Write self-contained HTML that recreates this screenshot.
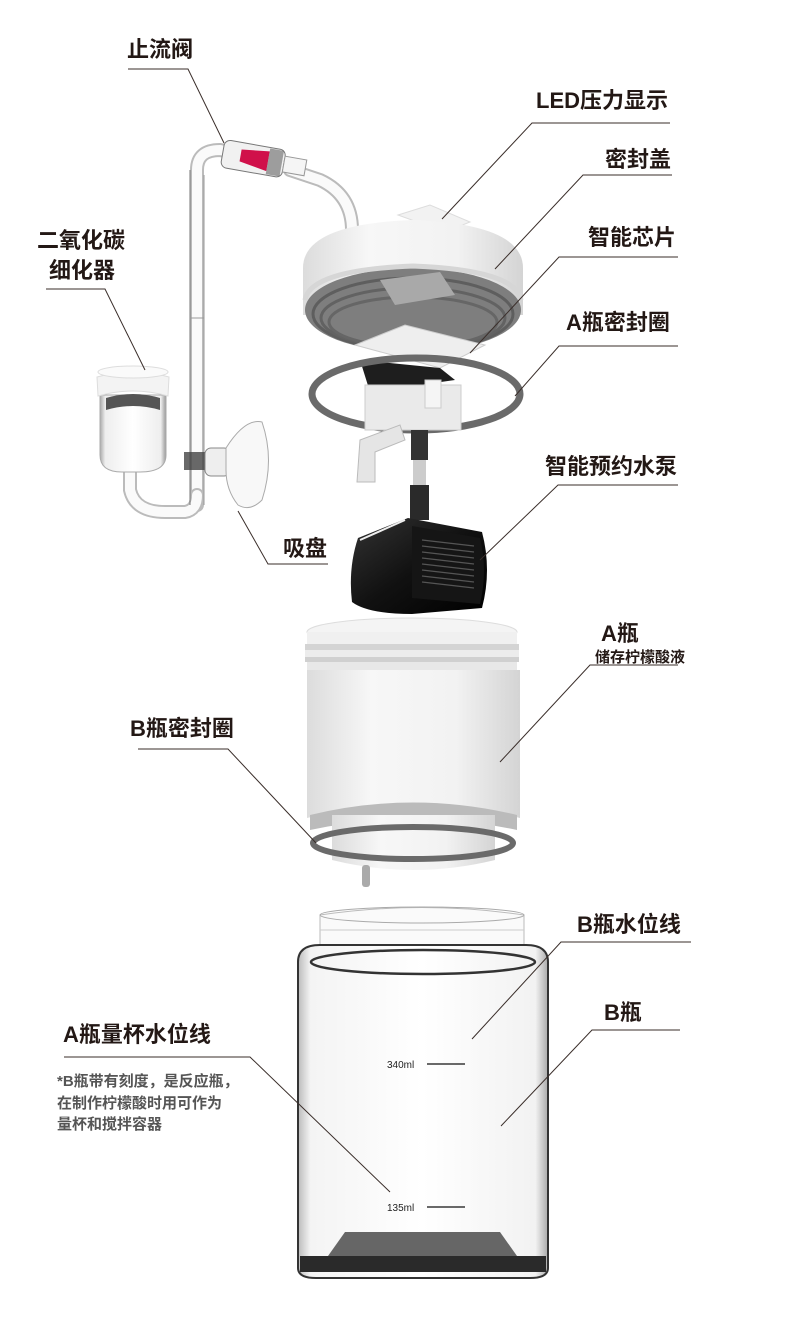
<!DOCTYPE html>
<html><head><meta charset="utf-8"><style>
html,body{margin:0;padding:0;background:#fff;}
svg{display:block;}
.l{font-family:"Liberation Sans","Noto Sans CJK SC",sans-serif;font-weight:bold;font-size:22px;fill:#231815;}
.s{font-family:"Liberation Sans","Noto Sans CJK SC",sans-serif;font-weight:bold;font-size:15px;fill:#555;}
.m{font-family:"Liberation Sans","Noto Sans CJK SC",sans-serif;font-size:10px;fill:#222;}
.ld{stroke:#3a2e2a;stroke-width:1;fill:none;}
</style></head><body>
<svg width="790" height="1337" viewBox="0 0 790 1337" xmlns="http://www.w3.org/2000/svg">
<defs>
<linearGradient id="wh" x1="0" x2="1" y1="0" y2="0">
<stop offset="0" stop-color="#dcdcdc"/><stop offset="0.3" stop-color="#f7f7f7"/><stop offset="0.7" stop-color="#f2f2f2"/><stop offset="1" stop-color="#d4d4d4"/></linearGradient>
<linearGradient id="blk" x1="0" x2="1" y1="0" y2="1">
<stop offset="0" stop-color="#333"/><stop offset="0.5" stop-color="#111"/><stop offset="1" stop-color="#000"/></linearGradient>
<linearGradient id="gl" x1="0" x2="1">
<stop offset="0" stop-color="#bbb"/><stop offset="0.05" stop-color="#f4f4f4"/><stop offset="0.5" stop-color="#fff"/><stop offset="0.95" stop-color="#f2f2f2"/><stop offset="1" stop-color="#aaa"/></linearGradient>
<linearGradient id="gl2" x1="0" x2="1">
<stop offset="0" stop-color="#aaa"/><stop offset="0.08" stop-color="#eee"/><stop offset="0.5" stop-color="#fff"/><stop offset="0.92" stop-color="#eee"/><stop offset="1" stop-color="#999"/></linearGradient>
</defs>

<!-- glass tube system -->
<g fill="none" stroke-linecap="round">
<path d="M197,505 L197,170 Q197,150 220,150 L230,152" stroke="#bbb" stroke-width="14"/>
<path d="M197,505 L197,170 Q197,150 220,150 L230,152" stroke="#fafafa" stroke-width="10"/>
<path d="M290,170 L320,180 Q352,195 352,230" stroke="#bbb" stroke-width="14"/>
<path d="M290,170 L320,180 Q352,195 352,230" stroke="#fafafa" stroke-width="10"/>
<path d="M130,470 L130,490 Q135,512 165,512 L185,512 Q197,510 197,495" stroke="#bbb" stroke-width="14"/>
<path d="M130,470 L130,490 Q135,512 165,512 L185,512 Q197,510 197,495" stroke="#fafafa" stroke-width="10"/>
</g>
<line x1="190" y1="170" x2="190" y2="505" stroke="#777" stroke-width="1"/>
<line x1="204" y1="175" x2="204" y2="505" stroke="#999" stroke-width="1"/>
<line x1="190" y1="318" x2="204" y2="318" stroke="#999"/>
<!-- valve -->
<g transform="rotate(10 255 160)">
<rect x="222" y="145" width="62" height="28" rx="6" fill="#f1f1f1" stroke="#777" stroke-width="1"/>
<path d="M240,152 L268,149 L268,169 L240,164 Z" fill="#d0104a"/>
<rect x="268" y="146" width="14" height="26" fill="#666" opacity="0.6"/>
<rect x="284" y="151" width="22" height="16" fill="#f5f5f5" stroke="#999"/>
</g>
<!-- clamp -->
<rect x="184" y="452" width="22" height="18" fill="#444" opacity="0.8"/>
<!-- cup -->
<path d="M100,395 L166,395 L166,455 Q166,472 140,472 L122,472 Q100,472 100,455 Z" fill="url(#gl2)" stroke="#aaa"/>
<path d="M106,398 Q133,390 160,398 L160,410 Q133,402 106,410 Z" fill="#555"/>
<path d="M97,377 Q133,367 169,377 L168,396 Q133,386 98,396 Z" fill="#f3f3f3" stroke="#ddd"/>
<ellipse cx="133" cy="372" rx="35" ry="6" fill="#fafafa" stroke="#ddd"/>
<!-- suction cup -->
<rect x="205" y="448" width="25" height="28" rx="6" fill="#eee" stroke="#888"/>
<path d="M226,448 Q245,418 262,422 Q275,460 262,500 Q250,512 238,505 Q226,490 226,470 Z" fill="#f8f8f8" stroke="#aaa"/>

<!-- cap -->
<path d="M398,215 L430,205 L470,222 L445,232 Z" fill="#f2f2f2" stroke="#ddd"/>
<path d="M303,268 Q303,224 413,220 Q523,224 523,268 L523,315 L303,315 Z" fill="url(#wh)"/>
<ellipse cx="413" cy="310" rx="108" ry="42" fill="#7e7e7e"/>
<ellipse cx="413" cy="314" rx="100" ry="36" fill="none" stroke="#5e5e5e" stroke-width="3"/>
<ellipse cx="413" cy="318" rx="92" ry="30" fill="none" stroke="#626262" stroke-width="3"/>
<ellipse cx="413" cy="322" rx="84" ry="25" fill="none" stroke="#666" stroke-width="3"/>
<path d="M305,300 Q310,270 413,266 Q516,270 521,300" fill="none" stroke="#d6d6d6" stroke-width="5"/>
<path d="M380,280 L440,272 L455,295 L395,305 Z" fill="#a9a9a9"/>
<!-- pcb -->
<path d="M355,345 L405,325 L485,345 L440,368 Z" fill="#eee" stroke="#ccc"/>
<path d="M360,360 L440,368 L455,380 L370,392 Z" fill="#1e1e1e"/>
<!-- ring A -->
<ellipse cx="416" cy="394" rx="104" ry="36" fill="none" stroke="#6a6a6a" stroke-width="7"/>
<!-- block -->
<rect x="365" y="385" width="96" height="45" fill="#eaeaea" stroke="#ccc"/>
<rect x="425" y="380" width="16" height="28" fill="#f5f5f5" stroke="#ccc"/>
<path d="M360,440 L400,425 L405,440 L375,452 L375,482 L357,482 Z" fill="#e5e5e5" stroke="#bbb"/>
<!-- pump tube -->
<rect x="411" y="430" width="17" height="30" fill="#333"/>
<rect x="413" y="460" width="13" height="30" fill="#ccc"/>
<rect x="410" y="485" width="19" height="35" fill="#2a2a2a"/>
<!-- pump -->
<path d="M358,538 L408,518 L482,532 Q492,570 482,608 L412,614 Q368,614 352,602 Q348,568 358,538 Z" fill="url(#blk)"/>
<path d="M412,526 L480,538 Q488,570 480,604 L412,598 Z" fill="#151515"/>
<g stroke="#555" stroke-width="1.3">
<line x1="422" y1="540" x2="474" y2="546"/><line x1="422" y1="546" x2="474" y2="552"/><line x1="422" y1="552" x2="474" y2="558"/><line x1="422" y1="558" x2="474" y2="564"/><line x1="422" y1="564" x2="474" y2="570"/><line x1="422" y1="570" x2="474" y2="576"/><line x1="422" y1="576" x2="474" y2="582"/><line x1="422" y1="582" x2="474" y2="588"/>
</g>
<path d="M360,540 L405,520" stroke="#eee" stroke-width="2"/>

<!-- A bottle -->
<ellipse cx="412" cy="632" rx="105" ry="14" fill="#f4f4f4" stroke="#ddd"/>
<rect x="307" y="632" width="210" height="12" fill="#f0f0f0"/>
<rect x="305" y="644" width="214" height="6" fill="#d4d4d4"/>
<rect x="305" y="650" width="214" height="7" fill="#ececec"/>
<rect x="305" y="657" width="214" height="5" fill="#d0d0d0"/>
<rect x="307" y="662" width="210" height="8" fill="#e8e8e8"/>
<path d="M307,670 L520,670 L520,818 Q413,790 307,818 Z" fill="url(#wh)"/>
<path d="M310,815 Q413,790 517,815 L517,830 Q413,808 310,830 Z" fill="#bbb"/>
<path d="M332,815 L495,815 L495,860 Q413,880 332,860 Z" fill="url(#wh)"/>
<ellipse cx="413" cy="843" rx="100" ry="16" fill="none" stroke="#6a6a6a" stroke-width="6"/>
<rect x="362" y="865" width="8" height="22" rx="3" fill="#aaa"/>

<!-- B jar -->
<path d="M320,915 Q422,900 524,915 L524,948 L320,948 Z" fill="#fafafa" stroke="#bbb"/>
<ellipse cx="422" cy="915" rx="102" ry="8" fill="none" stroke="#aaa"/>
<line x1="320" y1="930" x2="524" y2="930" stroke="#ccc"/>
<path d="M298,962 Q298,945 320,945 L526,945 Q548,945 548,962 L548,1268 Q548,1278 530,1278 L316,1278 Q298,1278 298,1268 Z" fill="url(#gl)" stroke="#333" stroke-width="2"/>
<ellipse cx="423" cy="962" rx="112" ry="12" fill="none" stroke="#333" stroke-width="2.5"/>
<path d="M328,1256 L345,1232 L500,1232 L517,1256 Z" fill="#666"/>
<path d="M300,1256 L546,1256 L546,1272 L300,1272 Z" fill="#2a2a2a"/>
<text class="m" x="387" y="1068">340ml</text>
<line x1="427" y1="1064" x2="465" y2="1064" stroke="#111" stroke-width="1.2"/>
<text class="m" x="387" y="1211">135ml</text>
<line x1="427" y1="1207" x2="465" y2="1207" stroke="#111" stroke-width="1.2"/>

<!-- leader lines -->
<polyline class="ld" points="128,69 188,69 224,143"/>
<polyline class="ld" points="46,289 105,289 145,370"/>
<polyline class="ld" points="328,564 268,564 238,511"/>
<polyline class="ld" points="670,123 532,123 442,219"/>
<polyline class="ld" points="672,175 583,175 495,269"/>
<polyline class="ld" points="678,257 559,257 470,353"/>
<polyline class="ld" points="678,346 559,346 515,396"/>
<polyline class="ld" points="678,485 558,485 480,560"/>
<polyline class="ld" points="678,665 590,665 500,762"/>
<polyline class="ld" points="138,749 228,749 316,843"/>
<polyline class="ld" points="691,942 561,942 472,1039"/>
<polyline class="ld" points="680,1030 592,1030 501,1126"/>
<polyline class="ld" points="64,1057 250,1057 390,1192"/>

<!-- labels -->
<text class="l" x="127" y="57">止流阀</text>
<text class="l" x="37" y="248">二氧化碳</text>
<text class="l" x="49" y="278">细化器</text>
<text class="l" x="283" y="556">吸盘</text>
<text class="l" x="536" y="108">LED压力显示</text>
<text class="l" x="605" y="167">密封盖</text>
<text class="l" x="588" y="245">智能芯片</text>
<text class="l" x="566" y="330">A瓶密封圈</text>
<text class="l" x="545" y="474">智能预约水泵</text>
<text class="l" x="601" y="641">A瓶</text>
<text class="s" x="595" y="662" style="fill:#231815">储存柠檬酸液</text>
<text class="l" x="130" y="736">B瓶密封圈</text>
<text class="l" x="577" y="932">B瓶水位线</text>
<text class="l" x="604" y="1020">B瓶</text>
<text class="l" x="63" y="1042">A瓶量杯水位线</text>
<text class="s" x="57" y="1086">*B瓶带有刻度，是反应瓶，</text>
<text class="s" x="57" y="1108">在制作柠檬酸时用可作为</text>
<text class="s" x="57" y="1129">量杯和搅拌容器</text>
</svg>
</body></html>
